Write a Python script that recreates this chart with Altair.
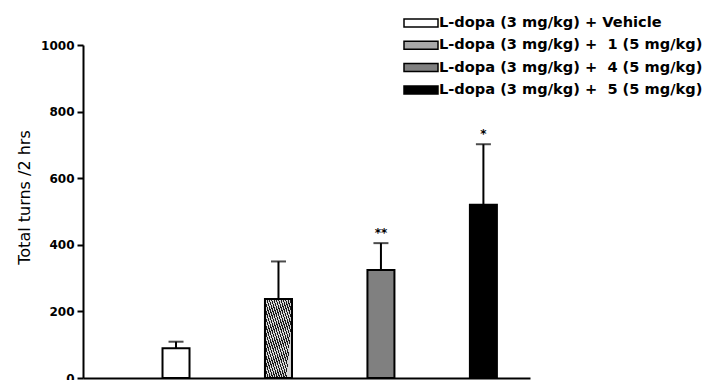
import altair as alt
import pandas as pd

NB = "\u00a0"
groups = [
    "L-dopa (3 mg/kg) + Vehicle",
    "L-dopa (3 mg/kg) + " + NB + "1 (5 mg/kg)",
    "L-dopa (3 mg/kg) + " + NB + "4 (5 mg/kg)",
    "L-dopa (3 mg/kg) + " + NB + "5 (5 mg/kg)",
]
means = [89, 237, 324, 520]
sems = [20, 113, 81, 182]
stars = ["", "", "**", "*"]
fills = ["#ffffff", "#a8a8a8", "#808080", "#000000"]

df = pd.DataFrame({
    "group": groups,
    "pos": list(range(1, len(groups) + 1)),
    "mean": means,
    "top": [m + s for m, s in zip(means, sems)],
    "star": stars,
})

FONT = "DejaVu Sans"

x = alt.X("pos:Q", scale=alt.Scale(domain=[0.141, 4.406], nice=False, zero=False),
          axis=alt.Axis(title=None, labels=False, ticks=False, grid=False,
                        domainColor="black", domainWidth=2))
y_axis = alt.Axis(values=[0, 200, 400, 600, 800, 1000], format="d", grid=False,
                  domainColor="black", domainWidth=2, tickColor="black",
                  tickWidth=2, tickSize=6, labelPadding=3,
                  labelFont=FONT, labelFontWeight="bold", labelFontSize=12,
                  labelColor="black",
                  title="Total turns /2 hrs", titleFont=FONT, titleFontSize=16,
                  titleFontWeight="normal", titleColor="black",
                  titleAngle=270, titleX=-59, titleY=152,
                  titleAlign="center", titleBaseline="middle")
y = alt.Y("mean:Q", scale=alt.Scale(domain=[0, 1000], nice=False), axis=y_axis)

base = alt.Chart(df)

bars = base.mark_bar(size=27, stroke="black", strokeWidth=2).encode(
    x=x,
    y=y,
    color=alt.Color("group:N",
                    scale=alt.Scale(domain=groups, range=fills),
                    legend=alt.Legend(title=None, orient="none",
                                      legendX=320, legendY=-32,
                                      symbolType="M-1,-0.235H1V0.235H-1Z",
                                      symbolSize=1156,
                                      symbolStrokeColor="black",
                                      symbolStrokeWidth=1.5,
                                      symbolOpacity=1,
                                      clipHeight=20,
                                      labelFont=FONT, labelFontWeight="bold",
                                      labelFontSize=14.6, labelColor="black",
                                      labelLimit=400, labelOffset=0,
                                      rowPadding=2.3)),
)

stops = []
n = 45
for i in range(n):
    a = i / n
    b = (i + 0.5) / n
    c = (i + 1) / n
    stops += [alt.GradientStop(offset=a, color="#1a1a1a"),
              alt.GradientStop(offset=b, color="#1a1a1a"),
              alt.GradientStop(offset=b, color="#d8d8d8"),
              alt.GradientStop(offset=c, color="#d8d8d8")]

hatch = base.transform_filter(alt.datum.pos == 2).mark_bar(
    size=27, stroke="black", strokeWidth=2,
    fill=alt.Gradient(gradient="linear", stops=stops, x1=0, y1=0, x2=1, y2=0.25),
).encode(x=x, y=y)

err = base.mark_rule(color="black", strokeWidth=2).encode(
    x=x, y=alt.Y("mean:Q"), y2="top:Q")
caps = base.mark_tick(color="black", orient="horizontal", size=15,
                      thickness=2).encode(x=x, y=alt.Y("top:Q"))
star_text = base.mark_text(font=FONT, fontWeight="bold", fontSize=12,
                           color="black", baseline="alphabetic", dy=-6).encode(
    x=x, y=alt.Y("top:Q"), text="star:N")

chart = alt.layer(bars, hatch, err, caps, star_text).properties(
    width=447, height=333,
    autosize=alt.AutoSizeParams(type="none"),
    padding={"left": 75, "top": 37, "right": 175, "bottom": 2},
).configure(background="white", view=alt.ViewConfig(stroke=None))

chart.save("out.html", embed_options={"renderer": "svg", "actions": False})
